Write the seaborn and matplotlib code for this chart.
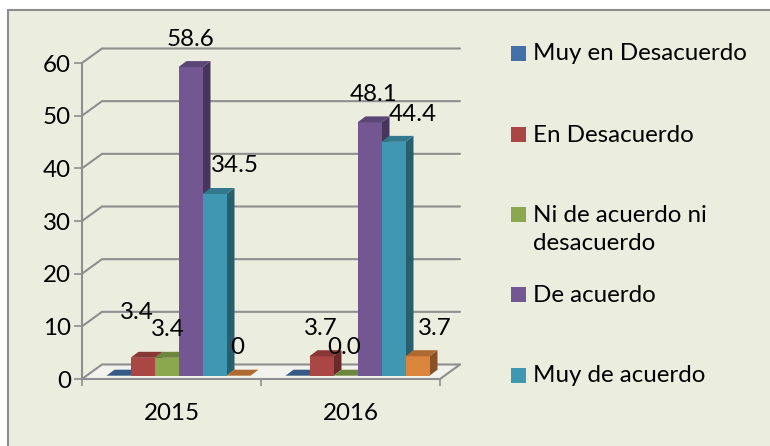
import matplotlib
matplotlib.use("Agg")
import matplotlib.pyplot as plt
from matplotlib.patches import Polygon, Rectangle
from matplotlib.colors import to_rgb
import numpy as np
import pandas as pd
import seaborn as sns

# ---- data ----
years = ["2015", "2016"]
series_names = ["Muy en Desacuerdo", "En Desacuerdo", "Ni de acuerdo ni desacuerdo",
                "De acuerdo", "Muy de acuerdo", "Sin dato"]
muy_en_desacuerdo = [0, 0]
en_desacuerdo = [3.4, 3.7]
ni_de_acuerdo = [3.4, 0.0]
de_acuerdo = [58.6, 48.1]
muy_de_acuerdo = [34.5, 44.4]
sin_dato = [0, 3.7]
labels_2015 = ["", "3.4", "3.4", "58.6", "34.5", "0"]
labels_2016 = ["", "3.7", "0.0", "48.1", "44.4", "3.7"]
colors = ["#4370A8", "#AA4644", "#8BA84F", "#735792", "#4097B2", "#DB843D"]
legend_labels = ["Muy en Desacuerdo", "En Desacuerdo", "Ni de acuerdo ni\ndesacuerdo",
                 "De acuerdo", "Muy de acuerdo"]
y_ticks = [0, 10, 20, 30, 40, 50, 60]

# label nudges from the top of each bar, in pixels (right, up)
nudge_2015 = [(0, 0), (-10, 39), (-3, 22), (-4, 22), (16, 22), (-5, 22)]
nudge_2016 = [(0, 0), (-5, 22), (-5, 22), (0, 22), (15.5, 21), (13, 22)]

W, H = 770, 446
BG = "#EBEEDF"
GRID = "#8E8E8E"
FS = 17.4

sns.set_theme(style="white")
plt.rcParams["font.family"] = ["Lato", "DejaVu Sans"]

df = pd.DataFrame({
    "year": years * 6,
    "serie": np.repeat(series_names, 2),
    "value": muy_en_desacuerdo + en_desacuerdo + ni_de_acuerdo + de_acuerdo + muy_de_acuerdo + sin_dato,
})

fig = plt.figure(figsize=(W / 100, H / 100), dpi=100, facecolor="white")
L, R, T, B = 82, 440, 63, 379
ax = fig.add_axes([L / W, 1 - B / H, (R - L) / W, (B - T) / H])
ax.set_facecolor("none")
fig.patches.append(Rectangle((8 / W, -0.1), 1.0, 1 - 10 / H + 0.1, transform=fig.transFigure,
                             facecolor=BG, edgecolor="#8C8C8C", lw=1.5, zorder=-5))

sns.barplot(data=df, x="year", y="value", hue="serie", order=years, hue_order=series_names,
            palette=colors, width=144 / 179, dodge=True, saturation=1, legend=False, ax=ax,
            linewidth=0, errorbar=None)
ax.set_xlim(-0.5, 1.5)
ax.set_ylim(0, 60)
ax.set_xlabel("")
ax.set_ylabel("")

ux = 2.0 / (R - L)          # data units per pixel, x
uy = 60.0 / (B - T)         # data units per pixel, y
wall_dx, wall_dy = 20 * ux, 14.5 * uy
bar_off_x, bar_off_y = 7 * ux, 3.3 * uy
bar_dx, bar_dy = 8 * ux, 6 * uy


def shade(c, f):
    return tuple(v * f for v in to_rgb(c))


# walls, floor and grid in the chart's depth
for v in y_ticks:
    ax.plot([-0.5, -0.5 + wall_dx, 1.5 + wall_dx],
            [v, v + wall_dy, v + wall_dy], color=GRID, lw=1.5, clip_on=False, zorder=1,
            solid_joinstyle="miter")
ax.add_patch(Polygon([(-0.5, 0), (-0.5 + wall_dx, wall_dy), (1.5 + wall_dx, wall_dy), (1.5, 0)],
                     closed=True, facecolor="#F2F3EC", edgecolor="none", zorder=0.5, clip_on=False))
ax.plot([1.5, 1.5 + wall_dx], [0, wall_dy], color=GRID, lw=1.5, clip_on=False, zorder=1)

# bars: the front faces come from seaborn, the depth faces follow from them
bars = [p for p in ax.patches if isinstance(p, Rectangle) and p.get_width() > 0]
bars = sorted(bars, key=lambda p: p.get_x())
for i, p in enumerate(bars):
    x0 = p.get_x() + bar_off_x
    h = p.get_height()
    y0 = bar_off_y
    w = p.get_width()
    p.set_x(x0)
    p.set_y(y0)
    p.set_clip_on(False)
    p.set_zorder(3 + i * 0.01)
    col = p.get_facecolor()[:3]
    ax.add_patch(Polygon([(x0, y0 + h), (x0 + bar_dx, y0 + h + bar_dy),
                          (x0 + w + bar_dx, y0 + h + bar_dy), (x0 + w, y0 + h)],
                         closed=True, facecolor=shade(col, 0.8), edgecolor="none",
                         zorder=3 + i * 0.01, clip_on=False))
    ax.add_patch(Polygon([(x0 + w, y0), (x0 + w + bar_dx, y0 + bar_dy),
                          (x0 + w + bar_dx, y0 + h + bar_dy), (x0 + w, y0 + h)],
                         closed=True, facecolor=shade(col, 0.62), edgecolor="none",
                         zorder=3 + i * 0.01 - 0.005, clip_on=False))

# value labels, placed from the tops of the bars
for g, (labs, nudges) in enumerate([(labels_2015, nudge_2015), (labels_2016, nudge_2016)]):
    gbars = [b for b in bars if (b.get_x() + b.get_width() / 2 < 0.5) == (g == 0)]
    gbars = sorted(gbars, key=lambda b: b.get_x())
    for b, s, (nx, ny) in zip(gbars, labs, nudges):
        if not s:
            continue
        cx = b.get_x() + b.get_width() / 2 + bar_dx / 2 + nx * ux
        cy = b.get_y() + b.get_height() + bar_dy + ny * uy
        ax.text(cx, cy, s, ha="center", va="center", fontsize=FS, color="black",
                zorder=6, clip_on=False)

# axes lines and ticks
sns.despine(ax=ax, top=True, right=True)
for side in ("left", "bottom"):
    ax.spines[side].set_color(GRID)
    ax.spines[side].set_linewidth(1.5)
ax.set_yticks(y_ticks)
ax.set_xticks([0, 1], years)
ax.set_xticks([-0.5, 0.5, 1.5], minor=True)
ax.tick_params(axis="y", direction="out", length=6, width=1.2, color=GRID, labelsize=FS,
               labelcolor="black", pad=2, left=True)
ax.tick_params(axis="x", which="minor", direction="out", length=5, width=1.2, color=GRID, bottom=True)
ax.tick_params(axis="x", which="major", length=0, labelsize=FS, labelcolor="black", pad=17)

# legend, with Excel's uneven entry spacing
legend_y = [53, 134, 214, 294, 375]
for lab, col, y in zip(legend_labels, colors, legend_y):
    fig.patches.append(Rectangle((511 / W, 1 - (y + 7.5) / H), 15 / W, 15 / H, transform=fig.transFigure,
                                 facecolor=col, edgecolor="none"))
    fig.text(533 / W, 1 - (y - 9.5) / H, lab, fontsize=FS, color="black", va="top", ha="left",
             linespacing=1.45)

fig.savefig("out.png", dpi=100, facecolor="white")
